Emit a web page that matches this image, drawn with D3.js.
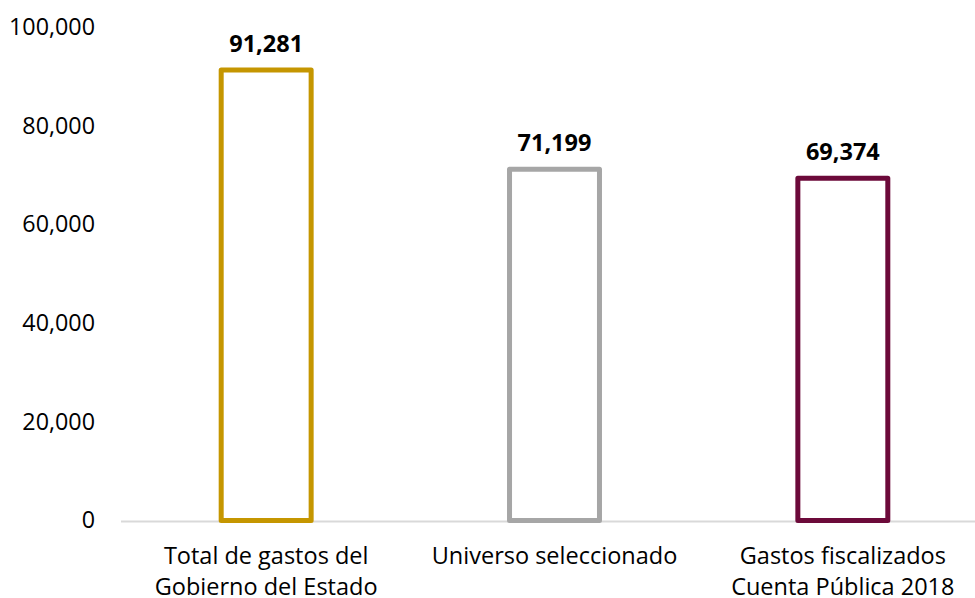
<!DOCTYPE html>
<html>
<head>
<meta charset="utf-8">
<script src="https://cdn.jsdelivr.net/npm/d3@7"></script>
<style>
  body { margin: 0; background: #fff; }
  text { font-family: "Open Sans", sans-serif; fill: #000; }
</style>
</head>
<body>
<script>
// Chart data
const categories = [
    ["Total de gastos del", "Gobierno del Estado"],
    ["Universo seleccionado"],
    ["Gastos fiscalizados", "Cuenta Pública 2018"]
];
const values = [91281, 71199, 69374];
const barColors = ["#c59600", "#a6a6a6", "#6c0a3a"];
const yTicks = [0, 20000, 40000, 60000, 80000, 100000];

// Size of the svg
const width = 975;
const height = 598;

// Plot area edges
const plotLeft = 122;
const plotRight = 987;
const plotTop = 27;
const plotBottom = 520.5;

const svg = d3.select("body").append("svg")
    .attr("width", width)
    .attr("height", height)
    .attr("viewBox", [0, 0, width, height]);

// Scales
const xScale = d3.scaleBand()
    .domain(d3.range(categories.length))
    .range([plotLeft, plotRight])
    .paddingInner(0.688)
    .paddingOuter(0.344);
const yScale = d3.scaleLinear().domain([0, 100000]).range([plotBottom, plotTop]);

const fmt = d3.format(",");

// Y axis labels only (no line, no ticks)
const yAxisRef = svg.append("g")
    .attr("transform", `translate(95, 0)`)
    .call(d3.axisLeft(yScale).tickValues(yTicks).tickFormat(fmt).tickSize(0).tickPadding(0));
yAxisRef.select(".domain").remove();
yAxisRef.selectAll("text")
    .attr("font-family", "Open Sans, sans-serif")
    .attr("font-size", 23.3)
    .attr("fill", "#000");

// Baseline
svg.append("line")
    .attr("x1", plotLeft - 1)
    .attr("x2", width)
    .attr("y1", yScale(0) + 1)
    .attr("y2", yScale(0) + 1)
    .attr("stroke", "#d9d9d9")
    .attr("stroke-width", 2);

// Outlined bars
svg.append("g")
    .selectAll("rect")
    .data(values)
    .join("rect")
    .attr("x", (d, i) => xScale(i))
    .attr("y", d => yScale(d))
    .attr("width", xScale.bandwidth())
    .attr("height", d => yScale(0) - yScale(d))
    .attr("fill", "none")
    .attr("stroke", (d, i) => barColors[i])
    .attr("stroke-width", 5)
    .attr("stroke-linejoin", "round");

// Value labels above bars
svg.append("g")
    .selectAll("text")
    .data(values)
    .join("text")
    .attr("x", (d, i) => xScale(i) + xScale.bandwidth() / 2)
    .attr("y", d => yScale(d) - 18)
    .attr("text-anchor", "middle")
    .attr("font-size", 23.5)
    .attr("font-weight", "bold")
    .text(d => fmt(d));

// Category labels under the axis
const catG = svg.append("g")
    .selectAll("text")
    .data(categories)
    .join("text")
    .attr("x", (d, i) => xScale(i) + xScale.bandwidth() / 2)
    .attr("y", 564)
    .attr("text-anchor", "middle")
    .attr("font-size", 23.5);
catG.selectAll("tspan")
    .data(d => d)
    .join("tspan")
    .attr("x", function() { return this.parentNode.getAttribute("x"); })
    .attr("dy", (d, i) => i === 0 ? 0 : 31)
    .text(d => d);
</script>
</body>
</html>
